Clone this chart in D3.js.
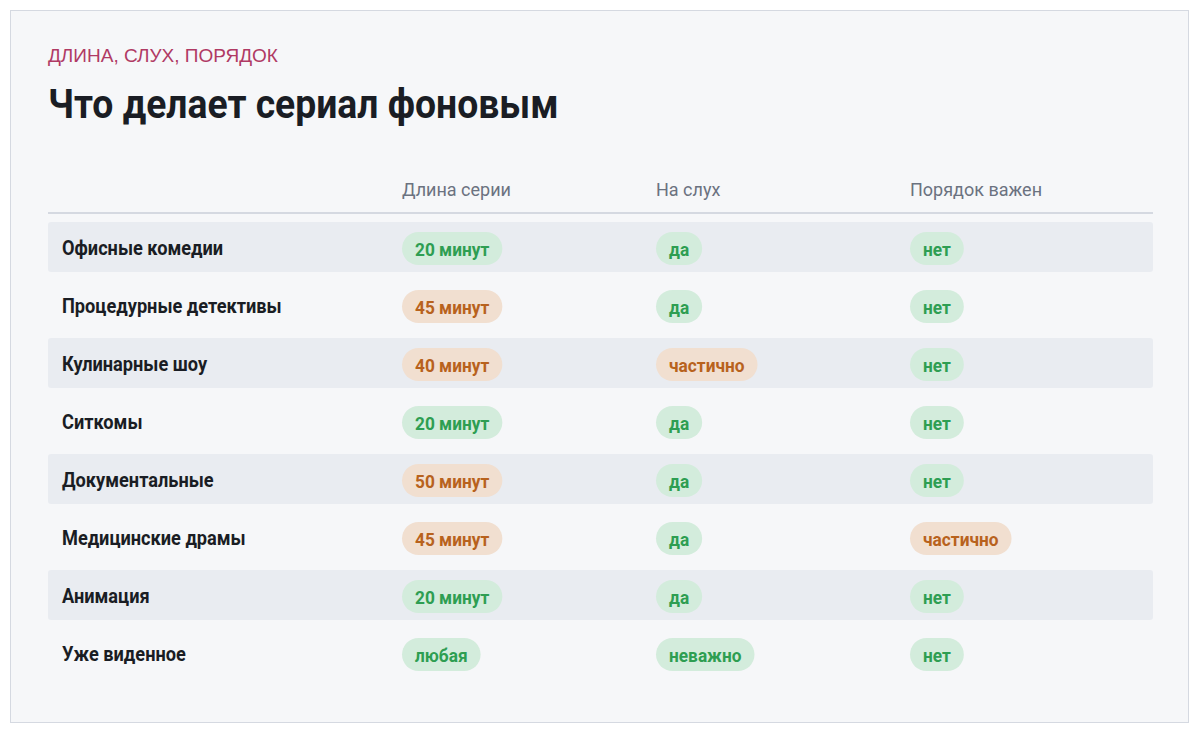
<!DOCTYPE html>
<html><head><meta charset="utf-8">
<script src="https://cdn.jsdelivr.net/npm/d3@7"></script>
<style>body{margin:0;background:#fff}</style>
</head><body>
<svg id="chart" width="1200" height="734"></svg>
<script>
// data
const rows = ["Офисные комедии", "Процедурные детективы", "Кулинарные шоу", "Ситкомы",
  "Документальные", "Медицинские драмы", "Анимация", "Уже виденное"];
const columns = ["Длина серии", "На слух", "Порядок важен"];
const lengthVals = ["20 минут", "45 минут", "40 минут", "20 минут", "50 минут", "45 минут", "20 минут", "любая"];
const lengthGood = [true, false, false, true, false, false, true, true];
const hearVals = ["да", "да", "частично", "да", "да", "да", "да", "неважно"];
const hearGood = [true, true, false, true, true, true, true, true];
const orderVals = ["нет", "нет", "нет", "нет", "нет", "частично", "нет", "нет"];
const orderGood = [true, true, true, true, true, false, true, true];

const svg = d3.select("#chart");
const font = "Roboto, 'Liberation Sans', sans-serif";
const squeeze = 0.91; // condensed look

svg.append("rect").attr("x", 10.5).attr("y", 10.5).attr("width", 1178).attr("height", 712)
  .attr("fill", "#f6f7f9").attr("stroke", "#d5d9e1");

svg.append("text").attr("x", 48).attr("y", 62).text("ДЛИНА, СЛУХ, ПОРЯДОК")
  .attr("font-family", "'Liberation Sans', Arial, sans-serif").attr("font-size", 19).attr("fill", "#b03a64");
svg.append("text").attr("transform", `translate(48,118) scale(${squeeze},1)`).text("Что делает сериал фоновым")
  .attr("font-family", font).attr("font-weight", "bold").attr("font-size", 41).attr("fill", "#1a1d24");

const x = d3.scaleOrdinal().domain(columns).range([402, 656, 910]);
const y = d3.scaleBand().domain(rows).range([222, 222 + 58 * rows.length]);

svg.selectAll(".hdr").data(columns).join("text")
  .attr("x", d => x(d)).attr("y", 196).text(d => d)
  .attr("font-family", font).attr("font-size", 18).attr("fill", "#6b7280");
svg.append("line").attr("x1", 48).attr("x2", 1153).attr("y1", 213).attr("y2", 213)
  .attr("stroke", "#d5d9e1").attr("stroke-width", 2);

svg.selectAll(".band").data(rows.filter((d, i) => i % 2 === 0)).join("rect")
  .attr("x", 48).attr("width", 1105).attr("y", d => y(d)).attr("height", 50)
  .attr("rx", 3).attr("fill", "#e9ecf1");

svg.selectAll(".lbl").data(rows).join("text")
  .attr("transform", d => `translate(62,${y(d) + 33}) scale(${squeeze},1)`).text(d => d)
  .attr("font-family", font).attr("font-weight", "bold").attr("font-size", 20).attr("fill", "#1a1d24");

const cells = [];
rows.forEach((r, i) => {
  cells.push({ row: r, col: columns[0], v: lengthVals[i], good: lengthGood[i] });
  cells.push({ row: r, col: columns[1], v: hearVals[i], good: hearGood[i] });
  cells.push({ row: r, col: columns[2], v: orderVals[i], good: orderGood[i] });
});

const pill = svg.selectAll(".pill").data(cells).join("g")
  .attr("transform", d => `translate(${x(d.col)},${y(d.row) + 10})`);
pill.append("text").attr("transform", `translate(13,24) scale(${squeeze},1)`).text(d => d.v)
  .attr("font-family", font).attr("font-weight", "bold").attr("font-size", 19)
  .attr("fill", d => d.good ? "#2e9e52" : "#b8621d");
pill.each(function () {
  const g = d3.select(this);
  const w = g.select("text").node().getComputedTextLength() * squeeze;
  g.insert("rect", "text").attr("width", w + 26).attr("height", 33).attr("rx", 16.5)
    .attr("fill", d => d.good ? "#d3ecdc" : "#f1dfd0");
});
</script>
</body></html>
